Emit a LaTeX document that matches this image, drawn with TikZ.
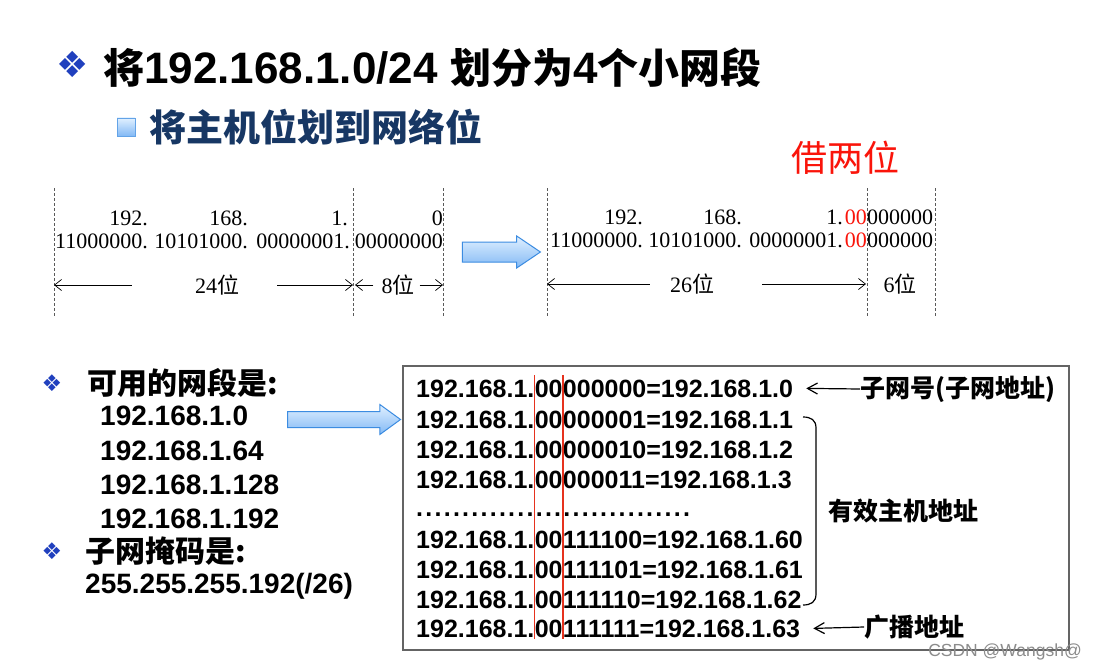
\documentclass[tikz,border=0pt]{standalone}
\usepackage{fontspec}
\setmainfont{Liberation Sans}
\newfontfamily\cjk{Noto Sans CJK SC}
\newfontfamily\binfont{Liberation Serif}
\newfontfamily\symb{DejaVu Sans}
\usetikzlibrary{arrows.meta,shapes.arrows,positioning}
\newcommand\setfs[1]{\fontsize{#1}{#1}\selectfont}
\definecolor{navy}{RGB}{23,55,100}
\definecolor{bulletblue}{RGB}{32,64,190}
\definecolor{hotred}{RGB}{250,20,10}
\definecolor{markred}{RGB}{230,50,30}
\definecolor{arrowline}{RGB}{60,140,225}
\definecolor{arrowtop}{RGB}{225,240,255}
\definecolor{arrowbot}{RGB}{130,185,245}
\definecolor{boxgray}{RGB}{100,100,100}

\begin{document}
\begin{tikzpicture}[x=1pt,y=-1pt,
  bits/.style={font=\binfont\setfs{22},anchor=base east,inner sep=0pt},
  dimlbl/.style={font=\binfont\setfs{22},inner sep=0pt},
  cut/.style={densely dashed,draw=black!65,line width=0.7pt},
  dim/.style={-{Straight Barb[length=7pt,width=11pt]},line width=0.7pt},
  blockarrow/.style={single arrow,draw=arrowline,line width=1pt,top color=arrowtop,bottom color=arrowbot,inner xsep=0pt},
  bullet/.style={text=bulletblue,inner sep=0pt},
  listhead/.style={font=\cjk\bfseries\setfs{30},anchor=west,inner sep=0pt},
  netitem/.style={font=\bfseries\setfs{28},anchor=west,inner sep=0pt},
  row/.style={font=\bfseries\setfs{25},anchor=base west,inner sep=0pt},
  redline/.style={draw=markred,line width=1.8pt},
  lbl/.style={font=\cjk\bfseries\setfs{25},anchor=west,inner sep=0pt},
  lblarrow/.style={-{Straight Barb[length=10pt,width=11pt]},line width=1.2pt}
]
\useasboundingbox (0,0) rectangle (1099,671);
\fill[white] (0,0) rectangle (1099,671);

% headings
\node[bullet,font=\symb\setfs{36}] (tbul) at (73,64) {❖};
\node[anchor=west,inner sep=0pt] (title) at (103,68)
  {{\cjk\bfseries\setfs{41}将}{\bfseries\setfs{44}192.168.1.0/24 }{\cjk\bfseries\setfs{41}划分为}{\bfseries\setfs{44}4}{\cjk\bfseries\setfs{41}个小网段}};
\node[draw=arrowline!80,top color=arrowtop,bottom color=arrowbot,minimum size=18pt,inner sep=0pt] (sbul) at (126,127) {};
\node[anchor=west,inner sep=0pt,text=navy,font=\cjk\bfseries\setfs{37}] (subtitle) at (149,127) {将主机位划到网络位};
\node[text=hotred,font=\cjk\setfs{36}] (borrow) at (845,158) {借两位};

% guide lines
\foreach \x in {54,353,443,547,867,935}
  \draw[cut] (\x,188) -- (\x,316);
\coordinate (d0) at (54,286);
\coordinate (d1) at (353,286);
\coordinate (d2) at (443,286);
\coordinate (d3) at (547,286);
\coordinate (d4) at (866,286);

% /24 address
\node[bits] (la1) at (148,225) {192.};
\node[bits] (la2) at (248,225) {168.};
\node[bits] (la3) at (348,225) {1.};
\node[bits] (la4) at (443,225) {0};
\node[bits] (lb1) at (148,248) {11000000.};
\node[bits] (lb2) at (248,248) {10101000.};
\node[bits] (lb3) at (350,248) {00000001.};
\node[bits] (lb4) at (443,248) {00000000};
\node[dimlbl] (w24) at (217,285) {24{\cjk 位}};
\node[dimlbl] (w8) at (398,285) {8{\cjk 位}};
\draw[dim] ([xshift=-63pt]w24.west) -- (w24.west -| d0);
\draw[dim] ([xshift=38pt]w24.east) -- (w24.east -| d1);
\draw[dim] ([xshift=-8pt]w8.west) -- ([xshift=2pt]w8.west -| d1);
\draw[dim] ([xshift=5pt]w8.east) -- (w8.east -| d2);

\node[blockarrow,minimum height=78pt,inner ysep=9.5pt,single arrow head extend=6pt,single arrow tip angle=68] (shift) at (494,252) {};

% /26 address
\node[bits] (ra1) at (643,224) {192.};
\node[bits] (ra2) at (742,224) {168.};
\node[bits] (ra3) at (843,224) {1.};
\node[bits,text=hotred] (ra4) at (867,224) {00};
\node[bits,anchor=base west] (ra5) at (ra4.base east) {000000};
\node[bits] (rb1) at (643,247) {11000000.};
\node[bits] (rb2) at (742,247) {10101000.};
\node[bits] (rb3) at (843,247) {00000001.};
\node[bits,text=hotred] (rb4) at (867,247) {00};
\node[bits,anchor=base west] (rb5) at (rb4.base east) {000000};
\node[dimlbl] (w26) at (692,284) {26{\cjk 位}};
\node[dimlbl] (w6) at (900,284) {6{\cjk 位}};
\draw[dim] ([xshift=-20pt]w26.west) -- (w26.west -| d3);
\draw[dim] ([xshift=48pt]w26.east) -- (w26.east -| d4);

% subnets
\node[bullet,font=\symb\setfs{23}] (bul1) at (52,383) {❖};
\node[listhead] (usable) at (87,383) {可用的网段是{\bfseries:}};
\node[netitem] (net1) at (100,416) {192.168.1.0};
\node[netitem] (net2) at (100,451) {192.168.1.64};
\node[netitem] (net3) at (100,485) {192.168.1.128};
\node[netitem] (net4) at (100,519) {192.168.1.192};
\node[bullet,font=\symb\setfs{23}] (bul2) at (52,551) {❖};
\node[listhead] (maskhead) at (85,551) {子网掩码是{\bfseries:}};
\node[netitem] (mask) at (85,586) {255.255.255.192(/26)};

\node[blockarrow,minimum height=113pt,inner ysep=7.5pt,single arrow head extend=7pt,single arrow tip angle=72] (tolist) at (338.5,419.5) {};

% first subnet in detail
\node[draw=boxgray,line width=1.6pt,minimum width=666pt,minimum height=284pt,inner sep=0pt] (listbox) at (736,508) {};
\foreach \y/\host/\dec [count=\i] in {397/000000/0,428/000001/1,458/000010/2,488/000011/3,548/111100/60,578/111101/61,608/111110/62,637/111111/63} {
  \node[row] (pre\i) at (416,\y) {192.168.1.};
  \node[row] (two\i) at (pre\i.base east) {00};
  \node[row] (dec\i) at (two\i.base east) {\host=192.168.1.\dec};
}
\node[row,font=\bfseries\setfs{25}\addfontfeature{LetterSpace=9}] (gap) at (416,516) {..............................};
\draw[redline] ([yshift=22pt]pre1.base east) -- ([yshift=-2pt]pre8.base east);
\draw[redline] ([yshift=22pt]two1.base east) -- ([yshift=-2pt]two8.base east);

\node[lbl] (netlbl) at (860,389) {子网号(子网地址)};
\draw[lblarrow] (netlbl.west) -- ([xshift=13pt]dec1.east);
\draw[line width=1.2pt] (803,417) .. controls (811,417) and (816,420) .. (816,428) -- (816,594) .. controls (816,602) and (811,605) .. (803,605);
\node[font=\cjk\bfseries\setfs{25},inner sep=0pt] (hostlbl) at (903,511) {有效主机地址};
\node[lbl] (bclbl) at (864,627) {广播地址};
\draw[lblarrow] (bclbl.west) -- ([xshift=13pt]dec8.east);

\node[text=black!45,font=\setfs{17.5},inner sep=1pt] (mark) at (1005,652) {CSDN @Wangsh@};
\end{tikzpicture}
\end{document}
